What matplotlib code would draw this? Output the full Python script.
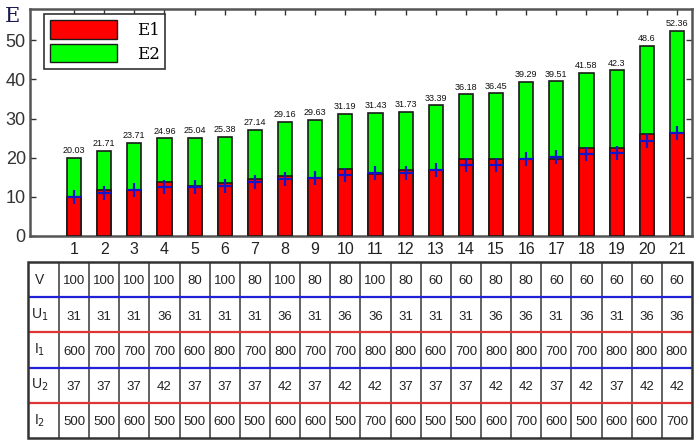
import matplotlib.pyplot as plt
from matplotlib.patches import Patch, Rectangle

# ---------------- data ----------------
n = list(range(1, 22))
E_total = [20.03, 21.71, 23.71, 24.96, 25.04, 25.38, 27.14, 29.16, 29.63, 31.19, 31.43,
           31.73, 33.39, 36.18, 36.45, 39.29, 39.51, 41.58, 42.3, 48.6, 52.36]
E1 = [10.0, 11.7, 11.7, 13.8, 12.8, 13.5, 14.6, 15.4, 14.8, 17.1, 15.8,
      16.8, 16.8, 19.6, 19.6, 19.6, 19.7, 22.6, 22.4, 26.0, 26.3]
E1_mark = [10.0, 11.0, 11.7, 12.6, 12.6, 12.8, 13.7, 14.5, 14.7, 15.6, 16.0,
           16.0, 16.8, 18.1, 18.1, 19.6, 20.2, 20.9, 21.3, 24.3, 26.4]

row_labels = ['V', 'U$_1$', 'I$_1$', 'U$_2$', 'I$_2$']
V  = [100, 100, 100, 100, 80, 100, 80, 100, 80, 80, 100, 80, 60, 60, 80, 80, 60, 60, 60, 60, 60]
U1 = [31, 31, 31, 36, 31, 31, 31, 36, 31, 36, 36, 31, 31, 31, 36, 36, 31, 36, 31, 36, 36]
I1 = [600, 700, 700, 700, 600, 800, 700, 800, 700, 700, 800, 800, 600, 700, 800, 800, 700, 700, 800, 800, 800]
U2 = [37, 37, 37, 42, 37, 37, 37, 42, 37, 42, 42, 37, 37, 37, 42, 42, 37, 42, 37, 42, 42]
I2 = [500, 500, 600, 500, 500, 600, 500, 600, 600, 500, 700, 600, 500, 500, 600, 700, 600, 500, 600, 600, 700]
table_rows = [V, U1, I1, U2, I2]

plt.rcParams['font.family'] = ['Liberation Sans', 'DejaVu Sans']

W, H = 699, 442
fig = plt.figure(figsize=(W / 100, H / 100), dpi=100)

# ---------------- bar chart ----------------
ax = fig.add_axes([30 / W, 1 - 236 / H, 662 / W, 227 / H])
ax.bar(n, E_total, width=0.47, color='#00ff00', edgecolor='#1a1a1a', linewidth=1.2, zorder=2)
ax.bar(n, E1, width=0.47, color='#ff0000', edgecolor='#1a1a1a', linewidth=1.2, zorder=3)
ax.plot(n, E1_mark, '+', color='#1414c8', ms=10, mew=1.6, zorder=4)

for xi, t in zip(n, E_total):
    ax.annotate('{:g}'.format(t), (xi, t), xytext=(0, 2), textcoords='offset points',
                ha='center', va='bottom', fontsize=6.5, color='#111')

ax.set_xlim(-0.46, 21.5)
ax.set_ylim(0, 58)
ax.set_xticks(n)
ax.set_yticks([0, 10, 20, 30, 40, 50])
ax.tick_params(direction='in', top=True, right=True, length=4, width=1, color='#333')
ax.tick_params(axis='y', labelsize=13, labelcolor='#333', pad=3)
ax.tick_params(axis='x', labelsize=11.5, labelcolor='#222', pad=4)
for s in ax.spines.values():
    s.set_color('#555')
    s.set_linewidth(1.8)

handles = [Patch(facecolor='#ff0000', edgecolor='#1a1a1a', label='E1'),
           Patch(facecolor='#00ff00', edgecolor='#1a1a1a', label='E2')]
leg = ax.legend(handles=handles, loc='upper left', bbox_to_anchor=(0.014, 1.0),
                prop={'family': 'serif', 'size': 12}, handlelength=4.0, handleheight=1.35,
                fancybox=False, framealpha=1, edgecolor='#333', borderpad=0.35,
                labelspacing=0.3, handletextpad=1.2, borderaxespad=0.3)
leg.get_frame().set_linewidth(1.2)

fig.text(5 / W, 1 - 22 / H, 'E', family='serif', fontsize=15, color='#1a1a50')

# ---------------- table ----------------
tx = fig.add_axes([28 / W, 1 - 438 / H, 664 / W, 176 / H])
tx.set_xlim(-0.526, 21.5)
tx.set_ylim(5, 0)
tx.axis('off')

for k in range(21):
    tx.plot([k + 0.5, k + 0.5], [0, 5], color='#555', lw=1.3, zorder=1)
line_cols = ['#2020d8', '#e03535', '#2020d8', '#e03535']
for r, c in enumerate(line_cols):
    tx.plot([-0.526, 21.5], [r + 1, r + 1], color=c, lw=1.6, zorder=2)
tx.add_patch(Rectangle((-0.526, 0), 22.026, 5, fill=False, edgecolor='#333', lw=1.8,
                       zorder=3, clip_on=False))

for r, (lab, vals) in enumerate(zip(row_labels, table_rows)):
    tx.text(-0.15, r + 0.5, lab, ha='center', va='center', fontsize=10, color='#222')
    for j, v in zip(n, vals):
        tx.text(j, r + 0.55, str(v), ha='center', va='center', fontsize=9.5, color='#222')

plt.savefig('out.png', dpi=100)
